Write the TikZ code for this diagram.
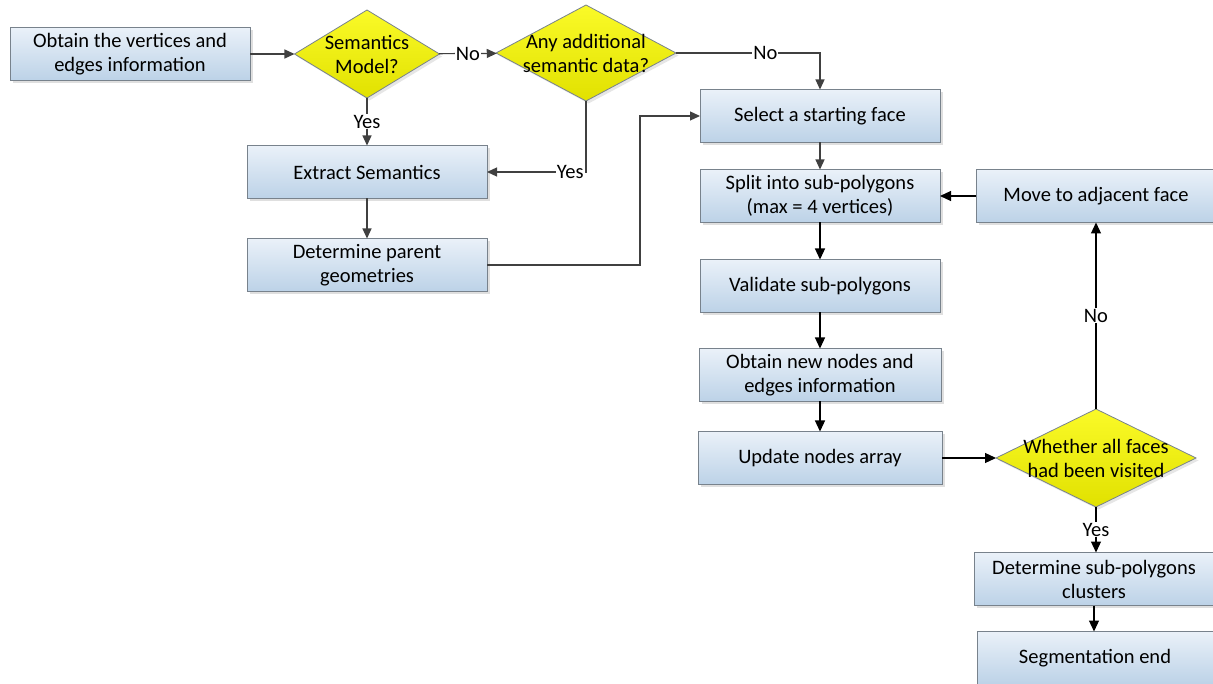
\documentclass[tikz,border=0pt]{standalone}
\usepackage{fontspec}
\setmainfont{Carlito}
\usetikzlibrary{shapes.geometric,arrows.meta,shadows}
\definecolor{boxtop}{RGB}{234,241,249}
\definecolor{boxbot}{RGB}{188,210,231}
\definecolor{boxline}{RGB}{120,130,140}
\definecolor{dectop}{RGB}{250,250,40}
\definecolor{decbot}{RGB}{225,225,0}
\definecolor{darkline}{RGB}{64,64,64}
\begin{document}
\begin{tikzpicture}[x=1pt,y=-1pt,
    font=\fontsize{20.5}{24}\selectfont,
    stepbox/.style={rectangle,draw=boxline,line width=0.8pt,top color=boxtop,bottom color=boxbot,
        minimum width=240pt,minimum height=53pt,align=center,inner sep=2pt,outer sep=0pt,
        drop shadow={opacity=0.25,shadow xshift=2.5pt,shadow yshift=-2.5pt}},
    decision/.style={diamond,draw=boxline,line width=0.8pt,top color=dectop,bottom color=decbot,
        inner sep=0pt,outer sep=0pt,
        drop shadow={opacity=0.2,shadow xshift=2.5pt,shadow yshift=-2.5pt}},
    lbl/.style={fill=white,inner sep=1pt},
    grayarrow/.style={draw=darkline,line width=1.2pt,-{Triangle[length=10pt,width=9pt]}},
    blackarrow/.style={draw=black,line width=1.2pt,-{Triangle[length=11pt,width=10pt]}}]
    \useasboundingbox (0,0) rectangle (1213,684);

    % Place the left part
    \node[stepbox] (vert) at (130,54) {Obtain the vertices and\\edges information};
    \node[decision,minimum width=145pt,minimum height=88pt,
        label={[align=center]center:Semantics\\Model?}] (sem) at (367,54) {};
    \node[decision,minimum width=180pt,minimum height=96pt,
        label={[align=center]center:Any additional\\semantic data?}] (any) at (586,53) {};
    \node[stepbox] (ext) at (367,172) {Extract Semantics};
    \node[stepbox] (par) at (367,265) {Determine parent\\geometries};

    % Place the main column
    \node[stepbox] (sel) at (820,116) {Select a starting face};
    \node[stepbox] (split) at (820,196) {Split into sub-polygons\\(max = 4 vertices)};
    \node[stepbox] (val) at (820,286) {Validate sub-polygons};
    \node[stepbox,minimum width=242pt] (newn) at (820,375) {Obtain new nodes and\\edges information};
    \node[stepbox,minimum width=244pt] (upd) at (820,458) {Update nodes array};

    % Place the right column
    \node[stepbox] (move) at (1096,196) {Move to adjacent face};
    \node[decision,minimum width=200pt,minimum height=98pt,
        label={[align=center]center:Whether all faces\\had been visited}] (vis) at (1096,458) {};
    \node[stepbox] (clus) at (1094,579) {Determine sub-polygons\\clusters};
    \node[stepbox,minimum width=236pt] (seg) at (1095,658) {Segmentation end};

    % The lines!
    \draw[grayarrow] (vert) -- (sem);
    \draw[grayarrow] (sem) -- node[lbl] {No} (any);
    \draw[grayarrow] (any.east) -| node[lbl,pos=0.31] {No} (sel.north);
    \draw[grayarrow] (sem.south) -- node[lbl] {Yes} (ext.north);
    \draw[grayarrow] (any.south) |- node[lbl,pos=0.58] {Yes} (ext.east);
    \draw[grayarrow] (ext) -- (par);
    \draw[grayarrow] (par.east) -- ++(153,0) |- (sel.west);
    \draw[grayarrow] (sel) -- (split);
    \draw[blackarrow] (split) -- (val);
    \draw[blackarrow] (val) -- (newn);
    \draw[blackarrow] (newn) -- (upd);
    \draw[blackarrow] (upd) -- (vis);
    \draw[blackarrow] (vis.north) -- node[lbl] {No} (vis.north |- move.south);
    \draw[blackarrow] (move) -- (split);
    \draw[blackarrow] (vis.south) -- node[lbl] {Yes} (vis.south |- clus.north);
    \draw[blackarrow] (clus.south) -- (clus.south |- seg.north);
\end{tikzpicture}
\end{document}
